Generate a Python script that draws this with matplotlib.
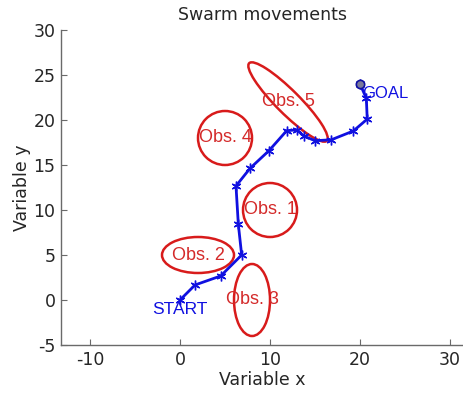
import matplotlib
matplotlib.use("Agg")
import matplotlib.pyplot as plt
from matplotlib.patches import Ellipse

plt.rcParams["axes.unicode_minus"] = False

# Swarm path (x, y) from start to goal
path_x = [0.0, 1.67, 4.52, 6.85, 6.48, 6.22, 7.78, 9.89, 11.85, 12.96, 13.8, 15.0, 16.8, 19.26, 20.8, 20.7, 20.0]
path_y = [0.0, 1.67, 2.67, 5.0, 8.4, 12.67, 14.63, 16.6, 18.81, 18.9, 18.2, 17.7, 17.8, 18.78, 20.1, 22.4, 24.0]

start = (0.0, 0.0)
goal = (20.0, 24.0)

# Obstacles: label, centre, full width, full height, rotation (deg)
obs_labels = ["Obs. 1", "Obs. 2", "Obs. 3", "Obs. 4", "Obs. 5"]
obs_cx = [10.0, 2.0, 8.0, 5.0, 12.0]
obs_cy = [10.0, 5.0, 0.0, 18.0, 22.0]
obs_w = [6.0, 8.0, 4.0, 6.0, 12.2]
obs_h = [6.0, 4.0, 8.0, 6.0, 2.6]
obs_angle = [0.0, 0.0, 0.0, 0.0, -45.0]

x_ticks = [-10, 0, 10, 20, 30]
y_ticks = [-5, 0, 5, 10, 15, 20, 25, 30]

fig = plt.figure(figsize=(4.64, 3.94), dpi=100)
ax = fig.add_axes([61 / 464, 49 / 394, 403 / 464, 315 / 394])

red = "#d81b1b"
blue = "#1010e0"
txt_red = "#d42a2a"
asterisk = (6, 2, 0)

for lbl, cx, cy, w, h, a in zip(obs_labels, obs_cx, obs_cy, obs_w, obs_h, obs_angle):
    ax.add_patch(Ellipse((cx, cy), w, h, angle=a, fill=False, edgecolor=red, lw=1.8))
    ax.text(cx, cy, lbl, color=txt_red, ha="center", va="center",
            fontsize=13, family="Liberation Sans")

ax.plot(path_x, path_y, color=blue, lw=2.0, marker=asterisk, markersize=7,
        markeredgewidth=1.0, markeredgecolor=blue, zorder=3)
ax.plot([goal[0]], [goal[1]], marker="o", markersize=6, markerfacecolor="#7a7a9a",
        markeredgecolor="#1010a0", markeredgewidth=1.2, zorder=4)

ax.text(start[0], start[1] - 1.1, "START", color=blue, ha="center", va="center",
        fontsize=12.5, family="Liberation Sans")
ax.text(goal[0] + 0.2, goal[1] - 1.1, "GOAL", color=blue, ha="left", va="center",
        fontsize=12, family="Liberation Sans")

ax.set_xlim(-13.22, 31.55)
ax.set_ylim(-5, 30)
ax.set_xticks(x_ticks)
ax.set_yticks(y_ticks)

for s in ("top", "right"):
    ax.spines[s].set_visible(False)
for s in ("left", "bottom"):
    ax.spines[s].set_color("#6a6a6a")
    ax.spines[s].set_linewidth(1.0)
ax.tick_params(direction="in", length=4, width=0.8, color="#6a6a6a",
               labelsize=12.5, labelcolor="#262626", pad=4)

ax.set_xlabel("Variable x", fontsize=12.5, color="#262626", labelpad=2)
ax.set_ylabel("Variable y", fontsize=12.5, color="#262626", labelpad=2)
ax.set_title("Swarm movements", fontsize=12.5, color="#262626", pad=7)

fig.savefig("out.png", dpi=100)
